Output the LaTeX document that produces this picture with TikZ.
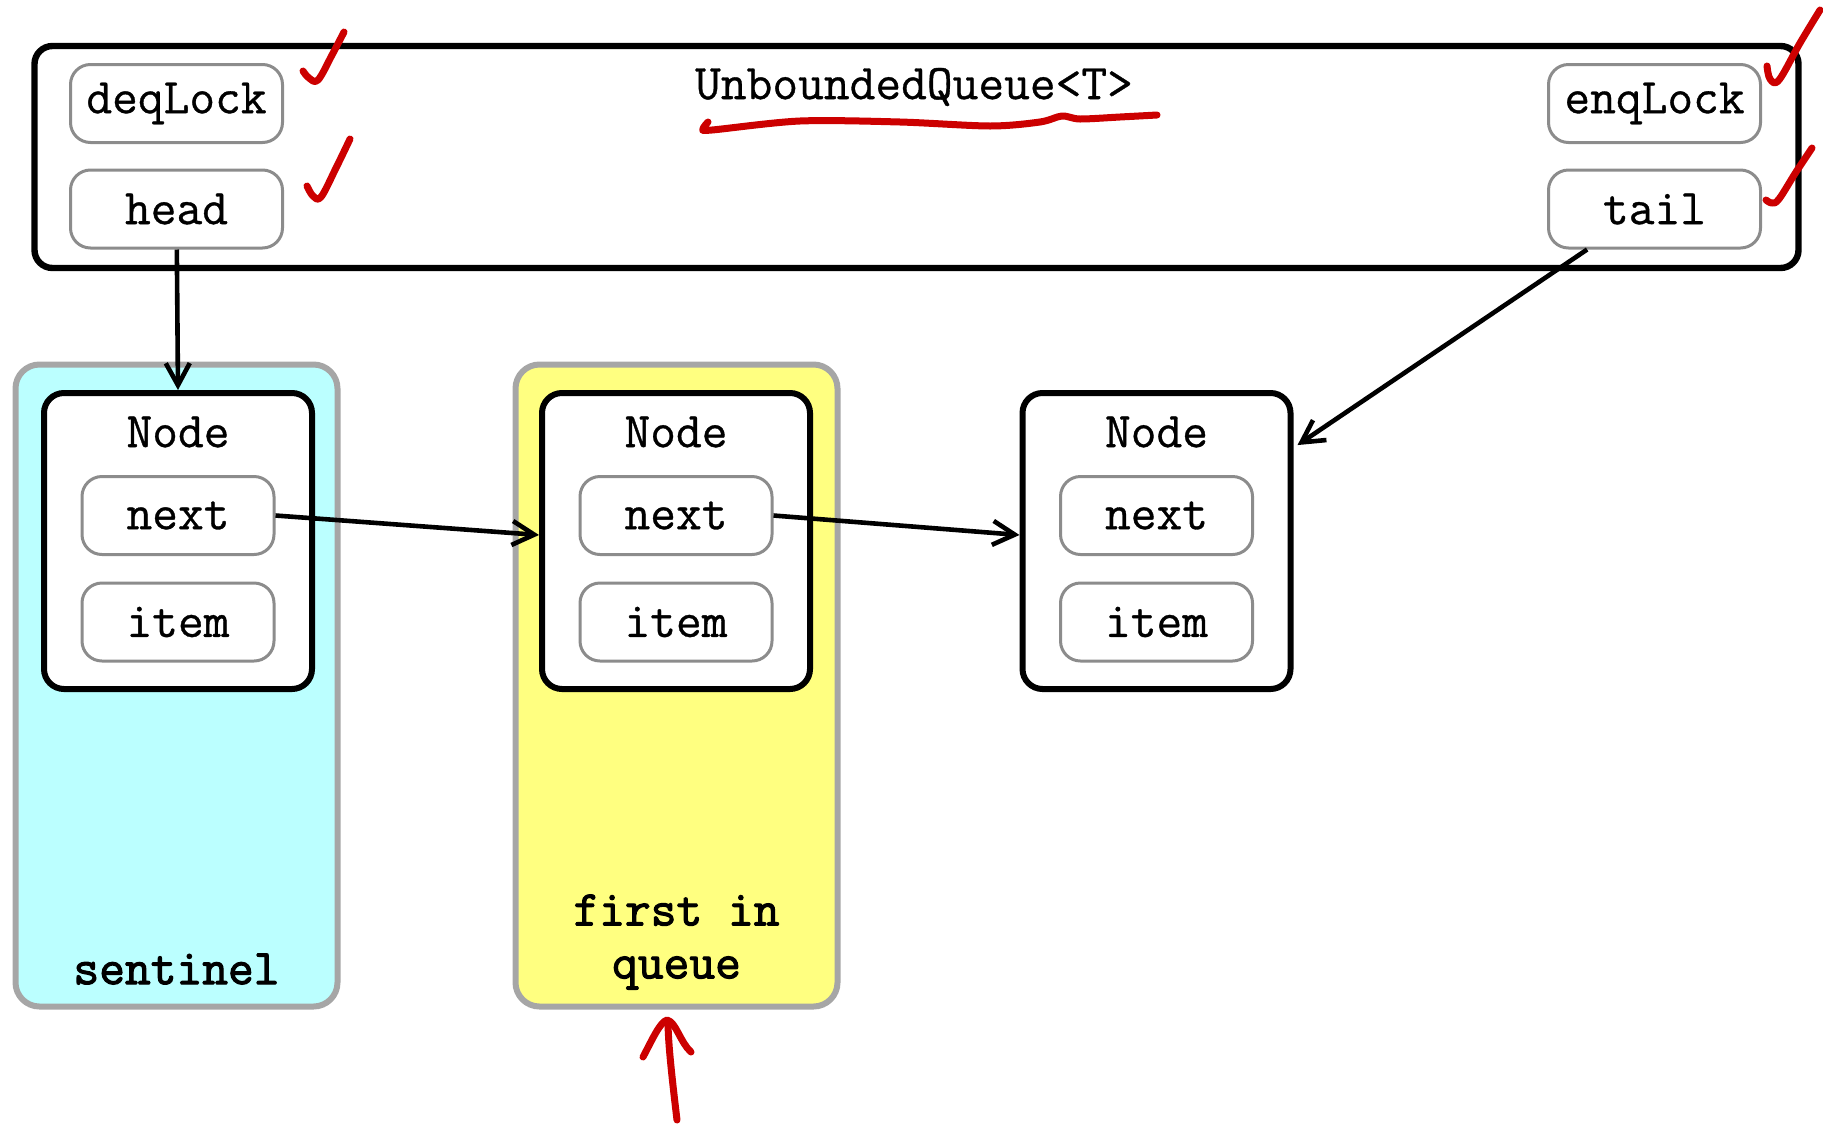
\documentclass[tikz,border=0pt]{standalone}
\usepackage{fontspec}
\newfontfamily\codefont{Latin Modern Mono}[FakeBold=0.7]
\newfontfamily\codeboldfont{Latin Modern Mono}[FakeBold=2.2]
\usetikzlibrary{arrows.meta}

\definecolor{fieldgray}{HTML}{8C8C8C}
\definecolor{holdgray}{HTML}{A6A6A6}
\definecolor{sentcyan}{HTML}{BBFFFF}
\definecolor{firstyellow}{HTML}{FFFF80}
\definecolor{inkred}{HTML}{CC0000}

\begin{document}
\begin{tikzpicture}[x=0.5pt,y=-0.5pt]

\tikzset{code/.style = {font=\codefont\fontsize{25}{26.5}\selectfont}}
\tikzset{codebold/.style = {font=\codeboldfont\fontsize{25}{26.5}\selectfont}}
\tikzset{field/.style = {shape=rectangle,draw=fieldgray,line width=1.5pt,rounded corners=10pt,fill=white,minimum width=106pt,minimum height=39pt,inner sep=0pt,code}}
\tikzset{slot/.style = {field,minimum width=96pt}}
\tikzset{nodebox/.style = {shape=rectangle,draw=black,line width=3pt,rounded corners=10pt,fill=white,minimum width=134pt,minimum height=148pt,inner sep=0pt}}
\tikzset{holder/.style = {shape=rectangle,draw=holdgray,line width=3pt,rounded corners=12pt,minimum width=161pt,minimum height=321pt,inner sep=0pt}}
\tikzset{edge/.style = {-{Straight Barb[length=11pt,width=12pt]},line width=2.3pt}}
\tikzset{scribble/.style = {draw=inkred,line width=3.5pt,line cap=round,line join=round}}

\useasboundingbox (0,0) rectangle (1823,1125);

% queue object
\node[shape=rectangle,draw,line width=3.2pt,rounded corners=9pt,minimum width=882pt,minimum height=111pt] (queue) at (916.5,157) {};
\node[code] (title) at (914,87) {UnboundedQueue<T>};
\node[field] (deqlock) at (176.5,103.5) {deqLock};
\node[field] (head) at (176.5,209) {head};
\node[field] (enqlock) at (1654.5,103.5) {enqLock};
\node[field] (tail) at (1654.5,209) {tail};

% holders
\node[holder,fill=sentcyan] (sent) at (176.5,685.5) {};
\node[holder,fill=firstyellow] (first) at (676.5,685.5) {};
\node[codebold] (sentlbl) at (176.5,969) {sentinel};
\node[codebold,align=center] (firstlbl) at (676.5,942) {first in\\queue};

% list nodes
\foreach \i/\x in {1/178,2/676,3/1156.5}{
  \node[nodebox] (n\i) at (\x,541) {};
  \node[code] (lbl\i) at (\x,432) {Node};
  \node[slot] (next\i) at (\x,515.5) {next};
  \node[slot] (item\i) at (\x,622) {item};
}

%edges
\draw[edge] (head) to (n1.north);
\draw[edge] (next1.east) to ([yshift=3pt]n2.west);
\draw[edge] (next2.east) to ([yshift=3pt]n3.west);
\draw[edge] (tail.211) to ([xshift=2pt]n3.35);

% red marks
\draw[scribble] plot[smooth,tension=0.6] coordinates {(303,71) (309,78) (318,80) (332,55) (344,32)};
\draw[scribble] plot[smooth,tension=0.6] coordinates {(307,186) (313,196) (321,197) (336,168) (350,139)};
\draw[scribble] plot[smooth,tension=0.6] coordinates {(1767,66) (1770,79) (1779,80) (1800,43) (1820,10)};
\draw[scribble] plot[smooth,tension=0.6] coordinates {(1766,200) (1772,203) (1779,199) (1796,172) (1812,148)};
\draw[scribble] plot[smooth,tension=0.5] coordinates {(708,122) (703,129) (712,130) (800,121) (900,122) (990,126) (1040,122) (1062,116) (1080,119) (1120,117) (1157,115)};
\draw[scribble] (677,1120) .. controls (671,1070) and (668,1040) .. (668,1021);
\draw[scribble] (643,1057) .. controls (652,1040) and (660,1022) .. (667,1020) .. controls (676,1022) and (680,1042) .. (691,1052);

\end{tikzpicture}
\end{document}
